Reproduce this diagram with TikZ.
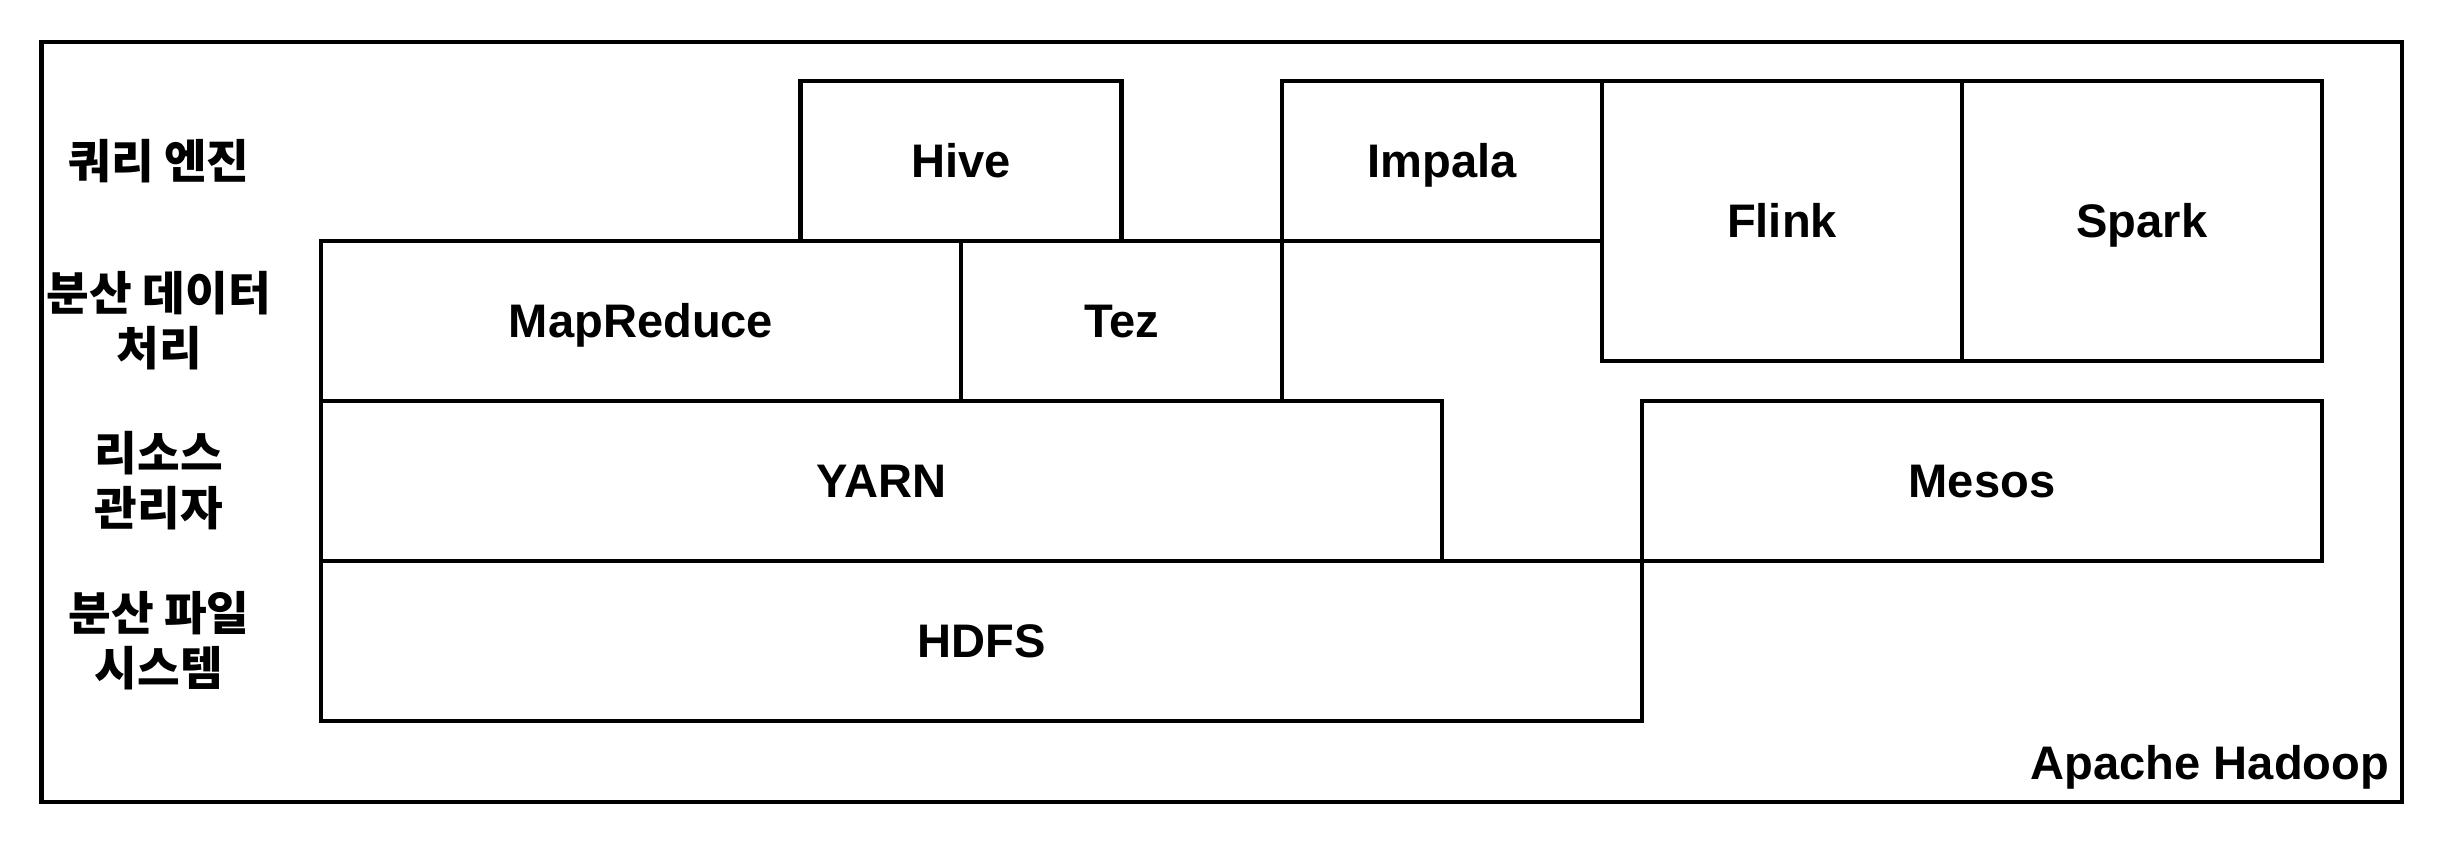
\documentclass[tikz,border=0pt]{standalone}
\usepackage{fontspec}
\setmainfont{Liberation Sans}
\newfontfamily\kofont{Noto Sans CJK KR}
\usetikzlibrary{positioning}

\tikzset{
  layerbox/.style={draw, line width=1.2pt, outer sep=0pt, inner sep=0pt, minimum height=1.6cm, text height=9.8pt, text depth=0pt, font=\bfseries\fontsize{13.4}{16}\selectfont},
  layerlabel/.style={align=center, inner sep=0pt, font=\kofont\bfseries\fontsize{13.2}{15.6}\selectfont}
}

\begin{document}
\begin{tikzpicture}
  \useasboundingbox (0,0) rectangle (24.44,-8.44);
  \node[draw, line width=1.2pt, outer sep=0pt, minimum width=23.605cm, minimum height=7.597cm] (frame) at (12.2175,-4.2185) {};

  \node[layerbox, minimum width=13.21cm, anchor=north west] (hdfs) at (3.21,-5.607) {HDFS};
  \node[layerbox, minimum width=11.21cm, anchor=south west] (yarn) at (hdfs.north west) {YARN};
  \node[layerbox, minimum width=6.8cm, anchor=south west] (mesos) at (hdfs.north east) {Mesos};
  \node[layerbox, minimum width=6.4cm, anchor=south west] (mapreduce) at (yarn.north west) {MapReduce};
  \node[layerbox, minimum width=3.21cm, right=0pt of mapreduce] (tez) {Tez};
  \node[layerbox, minimum width=3.21cm, anchor=south] (hive) at (mapreduce.north east) {Hive};
  \node[layerbox, minimum width=3.2cm, anchor=south west] (impala) at (tez.north east) {Impala};
  \node[layerbox, minimum width=3.6cm, minimum height=2.8cm, anchor=north west] (flink) at (impala.north east) {Flink};
  \node[layerbox, minimum width=3.6cm, minimum height=2.8cm, right=0pt of flink] (spark) {Spark};

  \node[layerlabel] (query) at (1.59,-1.607) {쿼리 엔진};
  \node[layerlabel] (processing) at (1.59,-3.207) {분산 데이터\\처리};
  \node[layerlabel] (resource) at (1.59,-4.807) {리소스\\관리자};
  \node[layerlabel] (storage) at (1.59,-6.407) {분산 파일\\시스템};

  \node[anchor=base east, inner sep=0pt, font=\bfseries\fontsize{13.4}{16}\selectfont] (hadoop) at ([xshift=-0.12cm, yshift=0.217cm]frame.south east) {Apache Hadoop};
\end{tikzpicture}
\end{document}
